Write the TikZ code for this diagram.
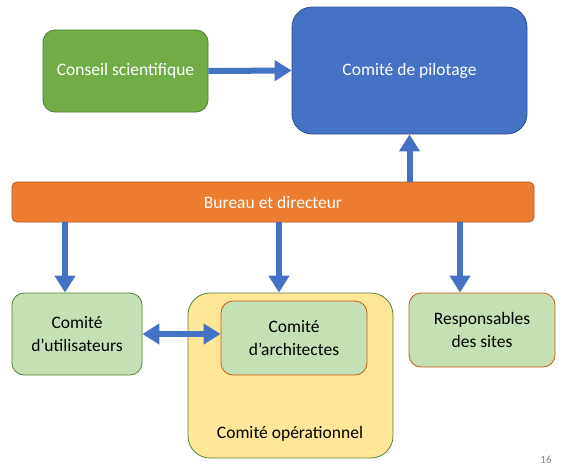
\documentclass[tikz,border=0pt]{standalone}
\usepackage{fontspec}
\setmainfont{Carlito}
\usetikzlibrary{arrows.meta}
\definecolor{cgreen}{HTML}{70AD47}
\definecolor{cgreenb}{HTML}{507E32}
\definecolor{cblue}{HTML}{4472C4}
\definecolor{cblueb}{HTML}{2F528F}
\definecolor{corange}{HTML}{ED7D31}
\definecolor{corangeb}{HTML}{AE5A21}
\definecolor{clight}{HTML}{C5E0B4}
\definecolor{cgreenline}{HTML}{548235}
\definecolor{corline}{HTML}{C55A11}
\definecolor{cyellow}{HTML}{FFE699}
\tikzset{
  box/.style={draw, line width=0.8pt, inner sep=0pt, align=center, font=\fontsize{17.5}{23}\selectfont},
  arr/.style={draw=cblue, line width=6pt, -{Triangle[width=20pt,length=17pt]}},
  darr/.style={draw=cblue, line width=6pt, {Triangle[width=20pt,length=17pt]}-{Triangle[width=20pt,length=17pt]}},
}
\begin{document}
\begin{tikzpicture}[x=1pt,y=-1pt]
\useasboundingbox (0,0) rectangle (572,467);
\node[box, fill=cgreen, draw=cgreenb, text=white, rounded corners=12pt, minimum width=165pt, minimum height=82pt] (conseil) at (125.5,71) {Conseil scientifique};
\node[box, fill=cblue, draw=cblueb, text=white, rounded corners=20pt, minimum width=235pt, minimum height=127pt] (pilotage) at (409.5,70.5) {Comité de pilotage};
\node[box, fill=corange, draw=corangeb, text=white, rounded corners=5pt, minimum width=522pt, minimum height=40pt] (bureau) at (273,202) {Bureau et directeur};
\node[box, fill=clight, draw=cgreenline, rounded corners=12pt, minimum width=130pt, minimum height=82pt] (util) at (77,334) {Comité\\d’utilisateurs};
\node[box, fill=cyellow, draw=cgreenline, rounded corners=22pt, minimum width=205pt, minimum height=165pt] (oper) at (290.5,375.5) {};
\node[box, draw=none] (operlabel) at (290,434) {Comité opérationnel};
\node[box, fill=clight, draw=corline, rounded corners=12pt, minimum width=146pt, minimum height=74pt] (archi) at (294,338) {Comité\\d’architectes};
\node[box, fill=clight, draw=corline, rounded corners=12pt, minimum width=146pt, minimum height=74pt] (resp) at (482,330) {Responsables\\des sites};
\node[font=\fontsize{11}{12}\selectfont, text=black!45, inner sep=0pt] (page) at (546,460) {16};
\coordinate (d1) at (65,0);
\coordinate (d2) at (279,0);
\coordinate (d3) at (460,0);
\draw[arr] (conseil.east) -- (pilotage.west);
\draw[arr] (bureau.north -| pilotage.south) -- (pilotage.south);
\draw[arr] (bureau.south -| d1) -- (util.north -| d1);
\draw[arr] (bureau.south -| d2) -- (oper.north -| d2);
\draw[arr] (bureau.south -| d3) -- (resp.north -| d3);
\draw[darr] (util.east) -- (util.east -| archi.west);
\end{tikzpicture}
\end{document}
